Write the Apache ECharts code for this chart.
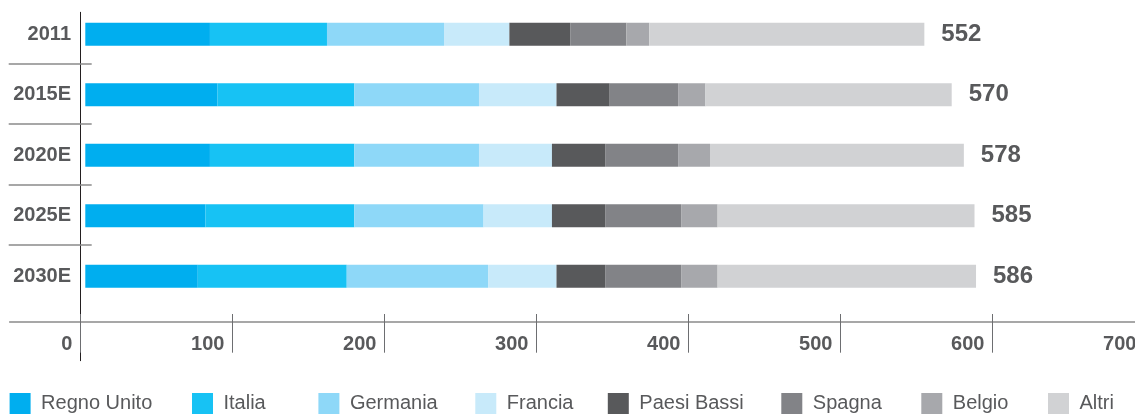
<!DOCTYPE html>
<html><head><meta charset="utf-8">
<script src="https://cdn.jsdelivr.net/npm/echarts@6/dist/echarts.min.js"></script>
<style>html,body{margin:0;padding:0;background:#fff}#c{width:1135px;height:414px}</style>
</head><body><div id="c"></div>
<script>
const categories = ['2011', '2015E', '2020E', '2025E', '2030E'];
const seriesNames = ['Regno Unito', 'Italia', 'Germania', 'Francia', 'Paesi Bassi', 'Spagna', 'Belgio', 'Altri'];
const regnoUnito = [82, 87, 82, 79, 74];
const italia     = [77, 90, 95, 98, 98];
const germania   = [77, 82, 82, 85, 93];
const francia    = [43, 51, 48, 45, 45];
const paesiBassi = [40, 35, 35, 35, 32];
const spagna     = [37, 45, 48, 50, 50];
const belgio     = [15, 18, 21, 24, 24];
const altri      = [181, 162, 167, 169, 170];
const totals     = [552, 570, 578, 585, 586];
const xTicks     = [0, 100, 200, 300, 400, 500, 600, 700];

const seriesData = [regnoUnito, italia, germania, francia, paesiBassi, spagna, belgio, altri];
const colors = ['#00aeef', '#17c2f4', '#8ed8f8', '#c8eafa', '#58595b', '#828387', '#a7a8ac', '#d1d2d4'];
const legendLeft = [9.6, 192, 318.4, 475.3, 607.8, 781.3, 921.3, 1048];

const FONT = "'Liberation Sans', Arial, Helvetica, sans-serif";
const TXT = '#58595b';
const xMin = xTicks[0], xMax = xTicks[xTicks.length - 1], xInt = xTicks[1] - xTicks[0];
const pxW = 1064;

const chart = echarts.init(document.getElementById('c'), null, {renderer: 'canvas'});

const hidden = (g, type) => ({gridIndex: g, type: type || 'value', show: false});
const G = o => Object.assign({outerBoundsMode: 'none', containLabel: false}, o);

const option = {
  animation: false,
  backgroundColor: '#ffffff',
  textStyle: {fontFamily: FONT},
  grid: [
    G({left: 85.3, top: 4, width: pxW, height: 302.5}),     // bars
    G({left: 80.4, top: 0, width: pxW, height: 314}),       // x ticks
    G({left: 72.4, top: 0, width: pxW, height: 314}),       // x labels
    G({left: 9.6, top: 0, width: 1300, height: 322}),       // x axis line
    G({left: 80.3, top: 12.3, width: 100, height: 348.4}),  // y axis line
    G({left: 91.7, top: 63.3, width: 100, height: 181.7})   // category separators
  ],
  xAxis: [
    {gridIndex: 0, type: 'value', min: xMin, max: xMax, show: false},
    {gridIndex: 1, type: 'value', min: xMin, max: xMax, interval: xInt,
      axisLine: {show: false}, splitLine: {show: false}, axisLabel: {show: false},
      axisTick: {show: true, length: 38.7, lineStyle: {color: '#6d6e71', width: 1}}},
    {gridIndex: 2, type: 'value', min: xMin, max: xMax, interval: xInt,
      axisLine: {show: false}, splitLine: {show: false}, axisTick: {show: false},
      axisLabel: {show: true, align: 'right', verticalAlign: 'middle', margin: 30,
        fontSize: 20, fontWeight: 'bold', color: TXT, fontFamily: FONT,
        showMinLabel: true, showMaxLabel: true,
        formatter: v => String(v)}},
    {gridIndex: 3, type: 'value', min: 0, max: 1,
      axisLine: {show: true, lineStyle: {color: '#8a8a8a', width: 1.5}},
      axisTick: {show: false}, axisLabel: {show: false}, splitLine: {show: false}},
    hidden(4),
    hidden(5)
  ],
  yAxis: [
    {gridIndex: 0, type: 'category', inverse: true, data: categories,
      axisLine: {show: false}, axisTick: {show: false}, splitLine: {show: false},
      axisLabel: {margin: 14.3, fontSize: 20, fontWeight: 'bold', color: TXT, fontFamily: FONT}},
    hidden(1),
    hidden(2),
    hidden(3),
    {gridIndex: 4, type: 'value', min: 0, max: 1,
      axisLine: {show: true, lineStyle: {color: '#231f20', width: 1}},
      axisTick: {show: false}, axisLabel: {show: false}, splitLine: {show: false}},
    {gridIndex: 5, type: 'value', min: 0, max: 3, interval: 1,
      axisLine: {show: false}, axisLabel: {show: false}, splitLine: {show: false},
      axisTick: {show: true, length: 83, lineStyle: {color: '#8a8a8a', width: 1.5}}}
  ],
  legend: seriesNames.map((n, i) => ({
    data: [n], left: legendLeft[i], top: 393, padding: 0,
    itemWidth: 21, itemHeight: 21, icon: 'rect', selectedMode: false,
    textStyle: {fontSize: 20, color: TXT, fontFamily: FONT, padding: [0, 0, 0, 5.5]}
  })),
  series: seriesNames.map((n, i) => ({
    name: n, type: 'bar', stack: 'total', xAxisIndex: 0, yAxisIndex: 0,
    barWidth: 23, data: seriesData[i],
    itemStyle: {color: colors[i]},
    emphasis: {disabled: true},
    label: i === seriesNames.length - 1 ? {
      show: true, position: 'right', distance: 17,
      fontSize: 24, fontWeight: 'bold', color: TXT, fontFamily: FONT,
      formatter: p => String(totals[p.dataIndex])
    } : {show: false}
  }))
};
chart.setOption(option);
</script>
</body></html>
